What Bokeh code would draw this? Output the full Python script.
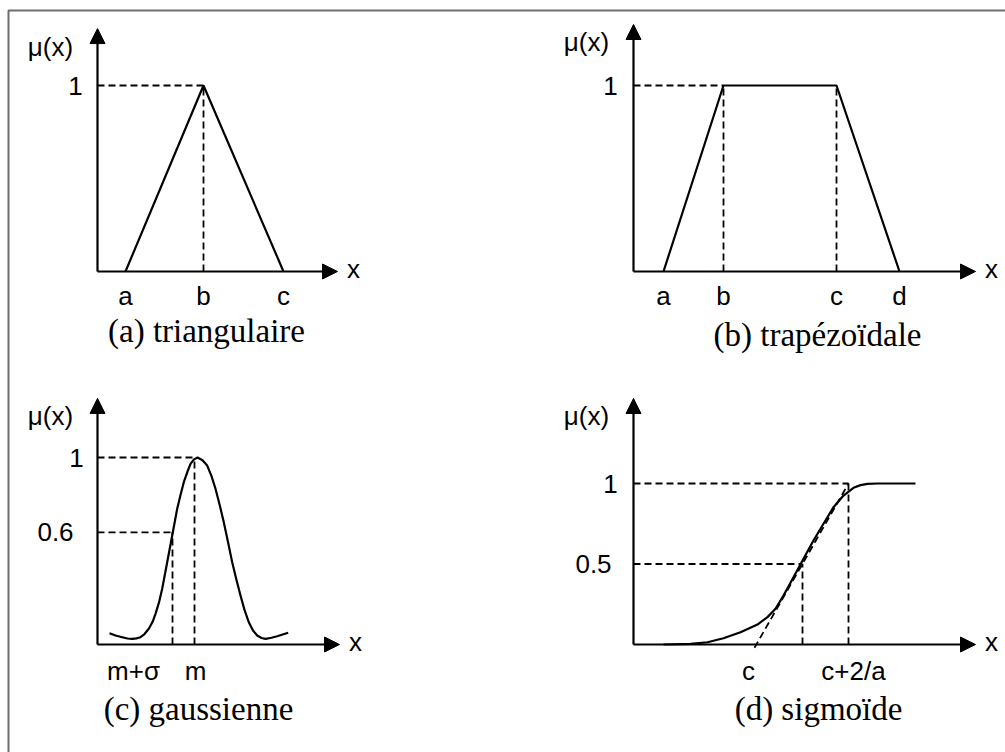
from bokeh.plotting import figure
from bokeh.models import Range1d, Arrow, NormalHead
from bokeh.core.properties import value
from bokeh.embed import file_html
from bokeh.resources import INLINE

# ---------------- data ----------------
# (a) triangular membership function
TRI_X = [2.8, 10.6, 18.6]
TRI_MU = [0, 1, 0]
TRI_LABELS = ["a", "b", "c"]

# (b) trapezoidal membership function
TRAP_X = [3.0, 9.0, 20.3, 26.6]
TRAP_MU = [0, 1, 1, 0]
TRAP_LABELS = ["a", "b", "c", "d"]

# (c) gaussian membership function
GAUSS_X = [1.2, 1.8, 2.47, 3.0, 3.47, 3.9, 4.3, 4.7, 5.13, 5.5, 5.8, 6.15,
           6.47, 6.97, 7.47, 7.97, 8.3, 8.63, 9.0, 9.3, 9.65, 10.0, 10.5,
           10.97, 11.4, 11.8, 12.2, 12.63, 13.05, 13.47, 13.9, 14.3, 14.7,
           15.13, 15.55, 15.97, 16.4, 16.8, 17.4, 17.97, 19.07]
GAUSS_MU = [0.060, 0.048, 0.039, 0.032, 0.030, 0.033, 0.039, 0.056, 0.084,
            0.120, 0.164, 0.225, 0.298, 0.440, 0.583, 0.726, 0.800, 0.868,
            0.925, 0.966, 0.990, 1.0, 0.985, 0.957, 0.900, 0.833, 0.750,
            0.654, 0.548, 0.440, 0.345, 0.262, 0.185, 0.119, 0.075, 0.048,
            0.035, 0.030, 0.036, 0.044, 0.063]
GAUSS_M = 9.7
GAUSS_M_SIGMA = 7.5
GAUSS_LEVEL = 0.6
GAUSS_TICK_X = [3.6, 9.8]
GAUSS_TICK_LABELS = ["m+σ", "m"]

# (d) sigmoid membership function
SIG_X = [3.0, 5.7, 7.4, 9.0, 10.7, 12.4, 13.4, 14.2, 15.0, 16.0, 17.0, 18.0,
         19.0, 20.0, 21.0, 22.0, 22.7, 23.4, 24.4, 28.2]
SIG_MU = [0.0, 0.004, 0.014, 0.039, 0.076, 0.124, 0.17, 0.222, 0.304, 0.418,
          0.532, 0.646, 0.75, 0.853, 0.925, 0.973, 0.990, 0.998, 1.0, 1.0]
SIG_HALF_X = 16.9
SIG_HALF_MU = 0.5
SIG_TOP_X = 21.5
SIG_TANGENT_X = [12.1, 21.5]
SIG_TANGENT_MU = [-0.02, 1.0]
SIG_TICK_X = [11.5, 22.0]
SIG_TICK_LABELS = ["c", "c+2/a"]

TITLES = ["(a) triangulaire", "(b) trapézoïdale", "(c) gaussienne", "(d) sigmoïde"]

# ---------------- styling / layout ----------------
W, H = 1005, 752
UX = 10.0                    # screen px per x unit inside every panel
SANS = "Liberation Sans"
SERIF = "Liberation Serif"
DASH = "7 4"
LW = 2.2

p = figure(width=W, height=H, x_range=Range1d(0, W), y_range=Range1d(H, 0),
           x_axis_type=None, y_axis_type=None, toolbar_location=None,
           output_backend="svg", min_border=0)
p.outline_line_color = None
p.background_fill_color = "white"
p.border_fill_color = "white"

# outer frame (top and left edges)
p.line(x=[8, 8, W], y=[H, 10, 10], line_color="#6e6e6e", line_width=2)

xr, yr = {}, {}


def panel(key, ox, oy, uy):
    """Named ranges putting data (0, 0) at screen (ox, oy), uy px per mu unit."""
    xr["x" + key] = Range1d(-ox / UX, (W - ox) / UX)
    yr["y" + key] = Range1d(-(H - oy) / uy, oy / uy)
    return dict(x_range_name="x" + key, y_range_name="y" + key)


def arrows(r, xmax, ymax):
    for xe, ye in [(0, ymax), (xmax, 0)]:
        p.add_layout(Arrow(end=NormalHead(size=15, fill_color="black",
                                          line_color="black", line_width=1),
                           x_start=0, y_start=0, x_end=xe, y_end=ye,
                           line_color="black", line_width=LW, **r))


def text(r, x, y, s, dx=0, dy=0, font=SANS, size="26px"):
    p.text(x=[x], y=[y], text=[s], x_offset=dx, y_offset=dy,
           text_font=value(font), text_font_size=size, text_color="black",
           text_align="center", text_baseline="middle", **r)


def frame_labels(r, xmax, ymax, yticks):
    text(r, 0, ymax, "μ(x)", dx=-47, dy=18)
    text(r, xmax, 0, "x", dx=16, dy=-3)
    for s, v, dx in yticks:
        text(r, 0, v, s, dx=dx)


def dashed(r, xs, ys):
    p.multi_line(xs=xs, ys=ys, line_color="black", line_width=1.8,
                 line_dash=DASH, **r)


# (a) triangulaire
ra = panel("a", 97, 271, 186)
arrows(ra, 24.0, 1.306)
frame_labels(ra, 24.0, 1.306, [("1", 1, -22)])
dashed(ra, [[0, TRI_X[1]], [TRI_X[1], TRI_X[1]]], [[1, 1], [0, 1]])
p.line(x=TRI_X, y=TRI_MU, line_color="black", line_width=LW, **ra)
for xv, s in zip(TRI_X, TRI_LABELS):
    text(ra, xv, 0, s, dy=24)

# (b) trapézoïdale
rb = panel("b", 633, 271, 186)
arrows(rb, 34.2, 1.328)
frame_labels(rb, 34.2, 1.328, [("1", 1, -23)])
dashed(rb, [[0, TRAP_X[1]], [TRAP_X[1], TRAP_X[1]], [TRAP_X[2], TRAP_X[2]]],
       [[1, 1], [0, 1], [0, 1]])
p.line(x=TRAP_X, y=TRAP_MU, line_color="black", line_width=LW, **rb)
for xv, s in zip(TRAP_X, TRAP_LABELS):
    text(rb, xv, 0, s, dy=24)

# (c) gaussienne
rc = panel("c", 97, 644, 187)
arrows(rc, 24.2, 1.316)
frame_labels(rc, 24.2, 1.316, [("1", 1, -21), ("0.6", GAUSS_LEVEL, -42)])
dashed(rc, [[0, GAUSS_M], [GAUSS_M, GAUSS_M], [0, GAUSS_M_SIGMA], [GAUSS_M_SIGMA, GAUSS_M_SIGMA]],
       [[1, 1], [0, 1], [GAUSS_LEVEL, GAUSS_LEVEL], [0, GAUSS_LEVEL]])
p.line(x=GAUSS_X, y=GAUSS_MU, line_color="black", line_width=LW,
       line_join="round", **rc)
for xv, s in zip(GAUSS_TICK_X, GAUSS_TICK_LABELS):
    text(rc, xv, 0, s, dy=26)

# (d) sigmoïde
rd = panel("d", 633, 644, 161)
arrows(rd, 34.2, 1.528)
frame_labels(rd, 34.2, 1.528, [("1", 1, -23), ("0.5", SIG_HALF_MU, -40)])
dashed(rd, [[0, SIG_TOP_X], [SIG_TOP_X, SIG_TOP_X], [0, SIG_HALF_X], [SIG_HALF_X, SIG_HALF_X], SIG_TANGENT_X],
       [[1, 1], [0, 1], [SIG_HALF_MU, SIG_HALF_MU], [0, SIG_HALF_MU], SIG_TANGENT_MU])
p.line(x=SIG_X, y=SIG_MU, line_color="black", line_width=LW,
       line_join="round", **rd)
for xv, s in zip(SIG_TICK_X, SIG_TICK_LABELS):
    text(rd, xv, 0, s, dy=26)

p.extra_x_ranges = xr
p.extra_y_ranges = yr

# panel captions, in screen coordinates
TITLE_POS = [(206, 330), (817, 334), (198, 708), (818, 708)]
for (tx, ty), s in zip(TITLE_POS, TITLES):
    p.text(x=[tx], y=[ty], text=[s], text_font=value(SERIF), text_font_size="33px",
           text_color="black", text_align="center", text_baseline="middle")

open("out.html", "w").write(file_html(p, INLINE))
